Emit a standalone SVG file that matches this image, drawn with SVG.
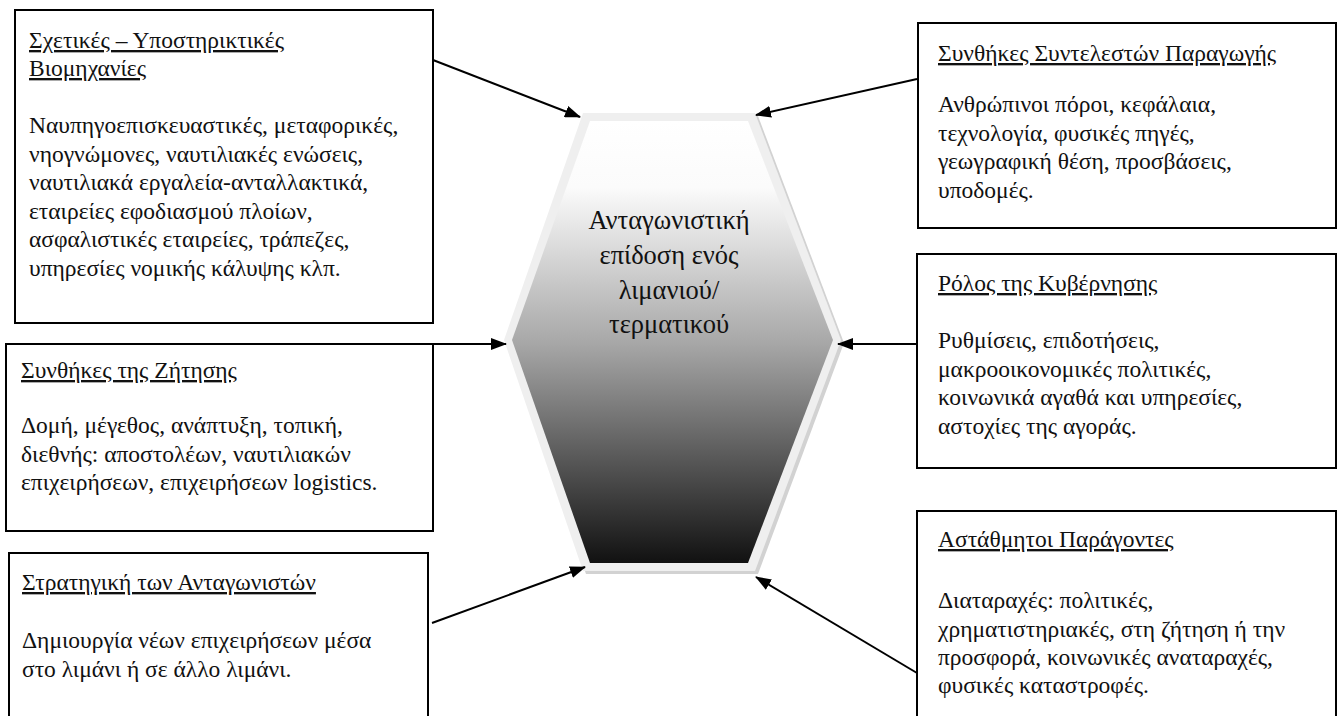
<svg xmlns="http://www.w3.org/2000/svg" width="1337" height="716" viewBox="0 0 1337 716">
<style>
.box{fill:#fff;stroke:#000;stroke-width:2}
.t{font-family:"Liberation Serif","DejaVu Serif",serif;font-size:23.5px;fill:#111}
.h{text-decoration:underline}
.hx{font-family:"Liberation Serif","DejaVu Serif",serif;font-size:26.5px;fill:#111;text-anchor:middle}
.c{stroke:#000;stroke-width:2;fill:none;marker-end:url(#ah)}
</style>
<defs>
<marker id="ah" markerWidth="16" markerHeight="12" refX="15" refY="6" orient="auto" markerUnits="userSpaceOnUse">
<path d="M0,0 L16,6 L0,12 Z" fill="#000"/>
</marker>
<linearGradient id="g" x1="0" y1="0" x2="0" y2="1">
<stop offset="0" stop-color="#ffffff"/>
<stop offset="0.15" stop-color="#fbfbfb"/>
<stop offset="0.5" stop-color="#a8a8a8"/>
<stop offset="1" stop-color="#111111"/>
</linearGradient>
</defs>
<rect width="1337" height="716" fill="#fff"/>

<g id="center">
<polygon points="586,116 758,116 844,343 758,574 586,574 507,343" fill="#d2d2d2"/>
<polygon points="583,113 755,113 841,340 755,571 583,571 504,340" fill="#efefef"/>
<polygon points="590,121 748,121 833,340 748,563 590,563 512,340" fill="url(#g)"/>
<text class="hx" x="669" y="229">Ανταγωνιστική</text>
<text class="hx" x="669" y="264">επίδοση ενός</text>
<text class="hx" x="669" y="299">λιμανιού/</text>
<text class="hx" x="669" y="333">τερματικού</text>
</g>

<g id="box-related">
<rect class="box" x="15" y="10" width="418" height="313"/>
<text class="t h" x="29" y="48">Σχετικές – Υποστηρικτικές</text>
<text class="t h" x="29" y="76">Βιομηχανίες</text>
<text class="t" x="29" y="133">Ναυπηγοεπισκευαστικές, μεταφορικές,</text>
<text class="t" x="29" y="161.5">νηογνώμονες, ναυτιλιακές ενώσεις,</text>
<text class="t" x="29" y="190">ναυτιλιακά εργαλεία-ανταλλακτικά,</text>
<text class="t" x="29" y="218.5">εταιρείες εφοδιασμού πλοίων,</text>
<text class="t" x="29" y="247">ασφαλιστικές εταιρείες, τράπεζες,</text>
<text class="t" x="29" y="275.5">υπηρεσίες νομικής κάλυψης κλπ.</text>
</g>

<g id="box-demand">
<rect class="box" x="6" y="344" width="427" height="187"/>
<text class="t h" x="21" y="378">Συνθήκες της Ζήτησης</text>
<text class="t" x="21" y="433">Δομή, μέγεθος, ανάπτυξη, τοπική,</text>
<text class="t" x="21" y="461.5">διεθνής: αποστολέων, ναυτιλιακών</text>
<text class="t" x="21" y="490">επιχειρήσεων, επιχειρήσεων logistics.</text>
</g>

<g id="box-strategy">
<rect class="box" x="9" y="553" width="419" height="175"/>
<text class="t h" x="22" y="590">Στρατηγική των Ανταγωνιστών</text>
<text class="t" x="22" y="648">Δημιουργία νέων επιχειρήσεων μέσα</text>
<text class="t" x="22" y="676.5">στο λιμάνι ή σε άλλο λιμάνι.</text>
</g>

<g id="box-factors">
<rect class="box" x="918" y="23" width="418" height="205"/>
<text class="t h" x="938" y="61">Συνθήκες Συντελεστών Παραγωγής</text>
<text class="t" x="938" y="112">Ανθρώπινοι πόροι, κεφάλαια,</text>
<text class="t" x="938" y="140.5">τεχνολογία, φυσικές πηγές,</text>
<text class="t" x="938" y="169">γεωγραφική θέση, προσβάσεις,</text>
<text class="t" x="938" y="197.5">υποδομές.</text>
</g>

<g id="box-government">
<rect class="box" x="917" y="254" width="419" height="214"/>
<text class="t h" x="938" y="291">Ρόλος της Κυβέρνησης</text>
<text class="t" x="938" y="348">Ρυθμίσεις, επιδοτήσεις,</text>
<text class="t" x="938" y="376.5">μακροοικονομικές πολιτικές,</text>
<text class="t" x="938" y="405">κοινωνικά αγαθά και υπηρεσίες,</text>
<text class="t" x="938" y="433.5">αστοχίες της αγοράς.</text>
</g>

<g id="box-chance">
<rect class="box" x="917" y="511" width="419" height="217"/>
<text class="t h" x="938" y="547">Αστάθμητοι Παράγοντες</text>
<text class="t" x="938" y="608">Διαταραχές: πολιτικές,</text>
<text class="t" x="938" y="637">χρηματιστηριακές, στη ζήτηση ή την</text>
<text class="t" x="938" y="665">προσφορά, κοινωνικές αναταραχές,</text>
<text class="t" x="938" y="693">φυσικές καταστροφές.</text>
</g>

<g id="connectors">
<line class="c" x1="433" y1="60" x2="580" y2="117"/>
<line class="c" x1="917" y1="79" x2="756" y2="115"/>
<line class="c" x1="433" y1="344" x2="506" y2="344"/>
<line class="c" x1="917" y1="344" x2="838" y2="344"/>
<line class="c" x1="432" y1="623" x2="585" y2="567"/>
<line class="c" x1="917" y1="673" x2="756" y2="577"/>
</g>
</svg>
